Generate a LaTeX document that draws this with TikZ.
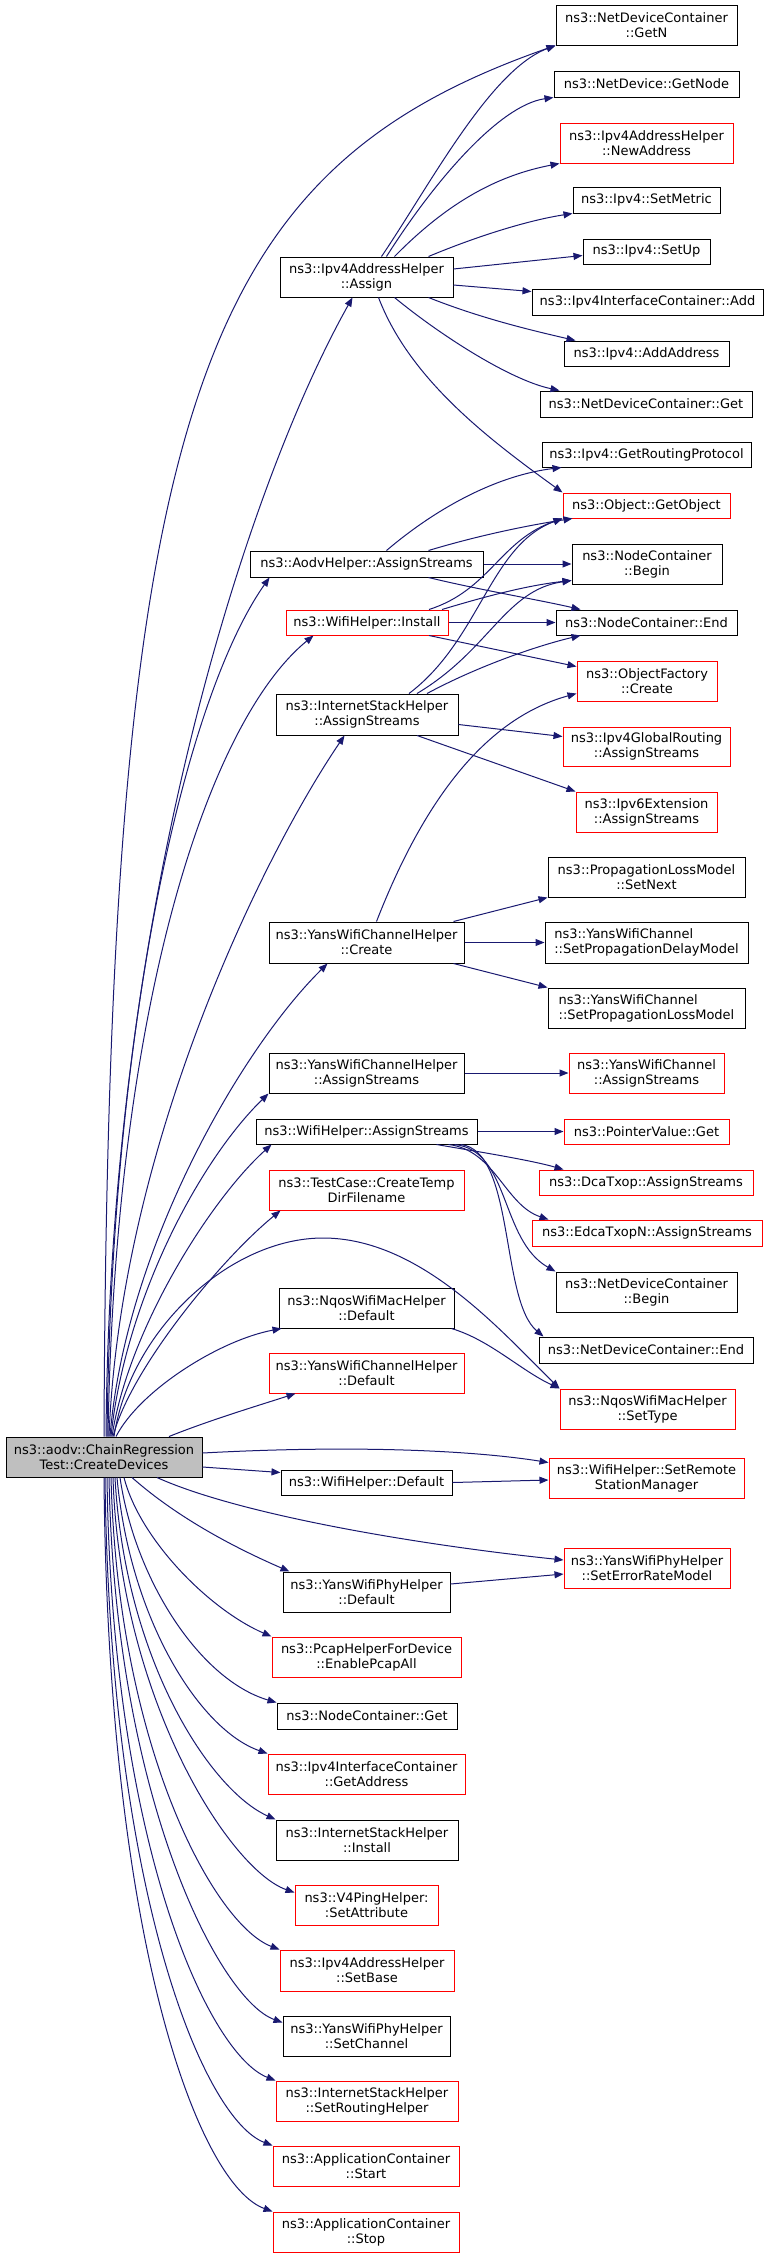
\documentclass[tikz,border=0pt]{standalone}
\usepackage{fontspec}
\setmainfont{DejaVu Sans}
\usetikzlibrary{arrows.meta}
\definecolor{edgeblue}{HTML}{191970}
\definecolor{boxred}{HTML}{FF0000}
\definecolor{mainfill}{HTML}{BFBFBF}
\newcommand{\bx}[7]{%
  \pgfmathsetmacro\bxw{#3-#2}\pgfmathsetmacro\bxh{#5-#4}%
  \node[#6, minimum width=\bxw pt, minimum height=\bxh pt] (#1) at ({(#2+#3)/2},{(#4+#5)/2}) {#7};}
\begin{document}
\begin{tikzpicture}[x=1pt,y=-1pt,
  box/.style={draw=black, line width=1pt, fill=white, align=center, inner sep=1pt, font=\fontsize{13}{15}\selectfont},
  rbox/.style={box, draw=boxred},
  mbox/.style={box, fill=mainfill},
  edge/.style={draw=edgeblue, line width=1pt, -{Triangle[length=9pt,width=7pt]}}]
\useasboundingbox (0,0) rectangle (768,2257);
% right column
\bx{getn}{556}{737}{5}{45}{box}{ns3::NetDeviceContainer\\::GetN}
\bx{getnode}{554}{739}{71}{97}{box}{ns3::NetDevice::GetNode}
\bx{newaddr}{560}{733}{123}{163}{rbox}{ns3::Ipv4AddressHelper\\::NewAddress}
\bx{setmetric}{573}{720}{187}{213}{box}{ns3::Ipv4::SetMetric}
\bx{setup}{583}{710}{239}{264}{box}{ns3::Ipv4::SetUp}
\bx{add}{532}{763}{289}{315}{box}{ns3::Ipv4InterfaceContainer::Add}
\bx{addaddr}{564}{729}{341}{366}{box}{ns3::Ipv4::AddAddress}
\bx{ndcget}{540}{752}{391}{417}{box}{ns3::NetDeviceContainer::Get}
\bx{getrp}{542}{751}{442}{467}{box}{ns3::Ipv4::GetRoutingProtocol}
\bx{getobj}{563}{730}{493}{518}{rbox}{ns3::Object::GetObject}
\bx{ncbegin}{572}{722}{544}{584}{box}{ns3::NodeContainer\\::Begin}
\bx{ncend}{556}{737}{610}{635}{box}{ns3::NodeContainer::End}
\bx{ofcreate}{577}{717}{661}{701}{rbox}{ns3::ObjectFactory\\::Create}
\bx{ipvgr}{563}{730}{727}{766}{rbox}{ns3::Ipv4GlobalRouting\\::AssignStreams}
\bx{ipvsix}{576}{717}{792}{832}{rbox}{ns3::Ipv6Extension\\::AssignStreams}
\bx{setnext}{548}{745}{857}{897}{box}{ns3::PropagationLossModel\\::SetNext}
\bx{setdelay}{545}{748}{922}{963}{box,align=left}{ns3::YansWifiChannel\\::SetPropagationDelayModel}
\bx{setloss}{548}{745}{988}{1028}{box,align=left}{ns3::YansWifiChannel\\::SetPropagationLossModel}
\bx{ywcas}{569}{724}{1053}{1093}{rbox}{ns3::YansWifiChannel\\::AssignStreams}
\bx{pvget}{564}{729}{1119}{1144}{rbox}{ns3::PointerValue::Get}
\bx{dca}{539}{753}{1170}{1195}{rbox}{ns3::DcaTxop::AssignStreams}
\bx{edca}{532}{762}{1220}{1246}{rbox}{ns3::EdcaTxopN::AssignStreams}
\bx{ndcbegin}{556}{737}{1272}{1312}{box}{ns3::NetDeviceContainer\\::Begin}
\bx{ndcend}{539}{753}{1337}{1363}{box}{ns3::NetDeviceContainer::End}
\bx{settype}{560}{735}{1389}{1429}{rbox}{ns3::NqosWifiMacHelper\\::SetType}
\bx{setrsm}{549}{744}{1458}{1498}{rbox}{ns3::WifiHelper::SetRemote\\StationManager}
\bx{seterm}{564}{730}{1548}{1588}{rbox}{ns3::YansWifiPhyHelper\\::SetErrorRateModel}
% middle column
\bx{assign}{280}{453}{257}{297}{box}{ns3::Ipv4AddressHelper\\::Assign}
\bx{aodv}{250}{483}{551}{577}{box}{ns3::AodvHelper::AssignStreams}
\bx{install}{286}{448}{610}{635}{rbox}{ns3::WifiHelper::Install}
\bx{isas}{276}{458}{694}{735}{box}{ns3::InternetStackHelper\\::AssignStreams}
\bx{ywccreate}{269}{464}{922}{963}{box}{ns3::YansWifiChannelHelper\\::Create}
\bx{ywcastwo}{269}{464}{1053}{1093}{box}{ns3::YansWifiChannelHelper\\::AssignStreams}
\bx{wifias}{256}{477}{1119}{1144}{box}{ns3::WifiHelper::AssignStreams}
\bx{testcase}{269}{464}{1170}{1210}{rbox}{ns3::TestCase::CreateTemp\\DirFilename}
\bx{nqdefault}{279}{454}{1288}{1328}{box}{ns3::NqosWifiMacHelper\\::Default}
\bx{ywcdefault}{269}{464}{1353}{1393}{rbox}{ns3::YansWifiChannelHelper\\::Default}
\bx{main}{6}{202}{1437}{1477}{mbox}{ns3::aodv::ChainRegression\\Test::CreateDevices}
\bx{wifidefault}{281}{452}{1470}{1495}{box}{ns3::WifiHelper::Default}
\bx{ywpdefault}{283}{450}{1572}{1612}{box}{ns3::YansWifiPhyHelper\\::Default}
\bx{pcap}{272}{461}{1637}{1677}{rbox}{ns3::PcapHelperForDevice\\::EnablePcapAll}
\bx{ncget}{277}{457}{1703}{1729}{box}{ns3::NodeContainer::Get}
\bx{getaddr}{268}{465}{1754}{1794}{rbox}{ns3::Ipv4InterfaceContainer\\::GetAddress}
\bx{isinstall}{276}{458}{1820}{1860}{box}{ns3::InternetStackHelper\\::Install}
\bx{vping}{295}{438}{1885}{1925}{rbox}{ns3::V4PingHelper:\\:SetAttribute}
\bx{setbase}{280}{454}{1950}{1991}{rbox}{ns3::Ipv4AddressHelper\\::SetBase}
\bx{setchannel}{283}{450}{2016}{2056}{box}{ns3::YansWifiPhyHelper\\::SetChannel}
\bx{setrouting}{276}{458}{2081}{2121}{rbox}{ns3::InternetStackHelper\\::SetRoutingHelper}
\bx{appstart}{273}{459}{2146}{2186}{rbox}{ns3::ApplicationContainer\\::Start}
\bx{appstop}{273}{459}{2212}{2252}{rbox}{ns3::ApplicationContainer\\::Stop}
% main: upward fan
\draw[edge] (main.north) .. controls (108,400) and (200,170) .. (getn.south west);
\draw[edge] ([xshift=2pt]main.north) .. controls (110,900) and (250,480) .. ([xshift=73pt]assign.south west);
\draw[edge] ([xshift=3pt]main.north) .. controls (112,1000) and (190,690) .. ([xshift=20pt]aodv.south west);
\draw[edge] ([xshift=4pt]main.north) .. controls (115,1000) and (210,720) .. ([xshift=28pt]install.south west);
\draw[edge] ([xshift=5pt]main.north) .. controls (120,1150) and (260,860) .. ([xshift=69pt]isas.south west);
\draw[edge] ([xshift=6pt]main.north) .. controls (125,1250) and (240,1050) .. ([xshift=59pt]ywccreate.south west);
\draw[edge] ([xshift=7pt]main.north) .. controls (125,1300) and (200,1160) .. (ywcastwo.south west);
\draw[edge] ([xshift=8pt]main.north) .. controls (128,1330) and (210,1200) .. ([xshift=16pt]wifias.south west);
\draw[edge] ([xshift=9pt]main.north) .. controls (130,1370) and (220,1260) .. ([xshift=12pt]testcase.south west);
\draw[edge] ([xshift=10pt]main.north) .. controls (130,1330) and (230,1238) .. (323,1238) .. controls (420,1238) and (500,1330) .. (settype.north west);
\draw[edge] ([xshift=12pt]main.north) .. controls (140,1390) and (220,1340) .. ([xshift=3pt]nqdefault.south west);
\draw[edge] ([xshift=65pt]main.north) .. controls (210,1420) and (260,1405) .. ([xshift=27pt]ywcdefault.south west);
% main: right
\draw[edge] ([yshift=4pt]main.east) .. controls (350,1445) and (470,1450) .. ([yshift=-5pt]setrsm.north west);
\draw[edge] ([yshift=-10pt]main.east) -- ([yshift=-3pt]wifidefault.north west);
\draw[edge] ([xshift=53pt]main.south) .. controls (240,1515) and (420,1545) .. ([yshift=8pt]seterm.west);
\draw[edge] ([xshift=28pt]main.south) .. controls (180,1520) and (240,1550) .. ([xshift=7pt]ywpdefault.north west);
% main: downward fan
\draw[edge] ([xshift=20pt]main.south) .. controls (140,1540) and (210,1610) .. (pcap.north west);
\draw[edge] ([xshift=16pt]main.south) .. controls (135,1580) and (200,1680) .. (ncget.north west);
\draw[edge] ([xshift=13pt]main.south) .. controls (130,1620) and (200,1730) .. (getaddr.north west);
\draw[edge] ([xshift=11pt]main.south) .. controls (125,1660) and (210,1790) .. (isinstall.north west);
\draw[edge] ([xshift=9pt]main.south) .. controls (120,1700) and (230,1870) .. ([yshift=-8pt]vping.north west);
\draw[edge] ([xshift=7pt]main.south) .. controls (118,1750) and (215,1925) .. (setbase.north west);
\draw[edge] ([xshift=5pt]main.south) .. controls (115,1800) and (220,2000) .. ([yshift=-7pt]setchannel.north west);
\draw[edge] ([xshift=3pt]main.south) .. controls (112,1850) and (210,2055) .. (setrouting.north west);
\draw[edge] ([xshift=1pt]main.south) .. controls (110,1900) and (205,2120) .. (appstart.north west);
\draw[edge] (main.south) .. controls (108,1950) and (200,2185) .. (appstop.north west);
% Assign
\draw[edge] ([xshift=15pt]assign.north) .. controls (430,185) and (490,70) .. (getn.south west);
\draw[edge] ([xshift=20pt]assign.north) .. controls (435,180) and (500,105) .. (getnode.south west);
\draw[edge] ([xshift=28pt]assign.north) .. controls (450,200) and (500,175) .. (newaddr.south west);
\draw[edge] ([xshift=62pt]assign.north) .. controls (480,235) and (530,220) .. (setmetric.south west);
\draw[edge] ([yshift=8pt]assign.east) -- ([yshift=-4pt]setup.west);
\draw[edge] ([yshift=-8pt]assign.east) -- ([yshift=-3pt]add.north west);
\draw[edge] ([xshift=62pt]assign.south) .. controls (480,318) and (530,330) .. ([xshift=12pt]addaddr.north west);
\draw[edge] ([xshift=28pt]assign.south) .. controls (440,335) and (510,380) .. ([xshift=20pt]ndcget.north west);
\draw[edge] ([xshift=12pt]assign.south) .. controls (410,380) and (490,440) .. (getobj.north west);
% Aodv
\draw[edge] ([xshift=20pt]aodv.north) .. controls (440,505) and (500,475) .. ([xshift=20pt]getrp.south west);
\draw[edge] ([xshift=62pt]aodv.north) .. controls (480,535) and (530,525) .. ([xshift=10pt]getobj.south west);
\draw[edge] (aodv.east) -- (ncbegin.west);
\draw[edge] ([xshift=62pt]aodv.south) .. controls (480,590) and (540,600) .. ([xshift=25pt]ncend.north west);
% Install
\draw[edge] ([xshift=62pt]install.north) .. controls (490,590) and (500,540) .. (getobj.south west);
\draw[edge] ([xshift=75pt]install.north) .. controls (490,595) and (530,585) .. ([yshift=4pt]ncbegin.south west);
\draw[edge] (install.east) -- (ncend.west);
\draw[edge] ([xshift=62pt]install.south) -- ([yshift=-6pt]ofcreate.north west);
% InternetStackHelper::AssignStreams
\draw[edge] ([xshift=42pt]isas.north) .. controls (480,640) and (490,545) .. (getobj.south west);
\draw[edge] ([xshift=50pt]isas.north) .. controls (490,650) and (505,590) .. ([yshift=4pt]ncbegin.south west);
\draw[edge] ([xshift=60pt]isas.north) .. controls (480,665) and (540,645) .. ([xshift=25pt]ncend.south west);
\draw[edge] ([yshift=-10pt]isas.east) -- ([yshift=-10pt]ipvgr.north west);
\draw[edge] ([xshift=50pt]isas.south) -- (ipvsix.north west);
% Create
\draw[edge] ([xshift=10pt]ywccreate.north) .. controls (420,810) and (480,720) .. ([yshift=8pt]ofcreate.south west);
\draw[edge] ([xshift=87pt]ywccreate.north) -- (setnext.south west);
\draw[edge] (ywccreate.east) -- (setdelay.west);
\draw[edge] ([xshift=87pt]ywccreate.south) -- (setloss.north west);
% YansWifiChannelHelper::AssignStreams
\draw[edge] (ywcastwo.east) -- (ywcas.west);
% WifiHelper::AssignStreams
\draw[edge] (wifias.east) -- (pvget.west);
\draw[edge] ([xshift=70pt]wifias.south) .. controls (480,1152) and (530,1160) .. ([xshift=25pt]dca.north west);
\draw[edge] ([xshift=82pt]wifias.south) .. controls (495,1150) and (505,1205) .. ([xshift=17pt]edca.north west);
\draw[edge] ([xshift=88pt]wifias.south) .. controls (510,1150) and (500,1240) .. (ndcbegin.north west);
\draw[edge] ([xshift=94pt]wifias.south) .. controls (515,1150) and (500,1300) .. ([xshift=5pt]ndcend.north west);
% others
\draw[edge] ([xshift=-3pt]nqdefault.south east) .. controls (490,1340) and (520,1370) .. (settype.north west);
\draw[edge] (wifidefault.east) -- ([yshift=-2pt]setrsm.west);
\draw[edge] ([yshift=8pt]ywpdefault.east) -- ([yshift=-6pt]seterm.west);
\end{tikzpicture}
\end{document}
